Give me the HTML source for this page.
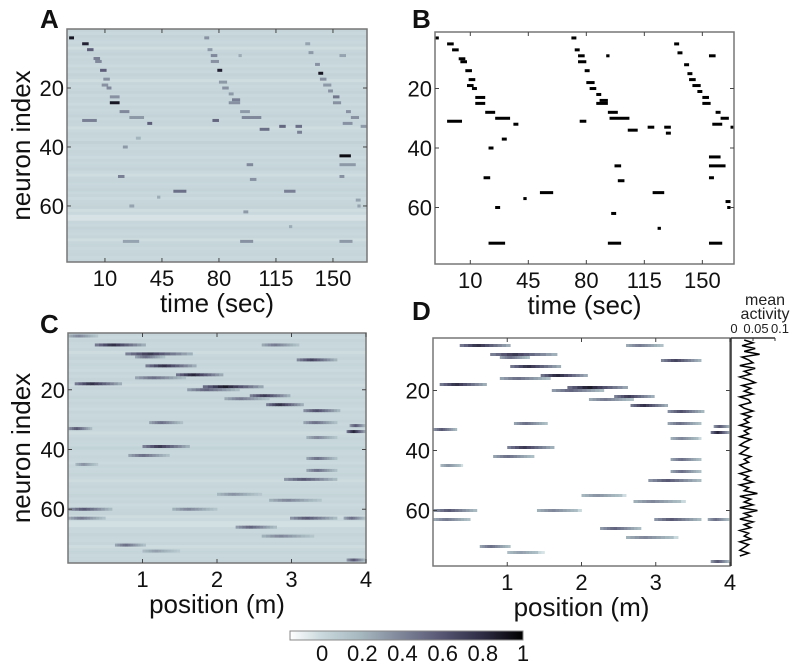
<!DOCTYPE html>
<html><head><meta charset="utf-8">
<style>
html,body{margin:0;padding:0;background:#fff;}
svg{display:block;font-family:"Liberation Sans",sans-serif;}
</style></head>
<body>
<svg id="fig" width="800" height="668" viewBox="0 0 800 668" xmlns="http://www.w3.org/2000/svg"></svg>
<script>
// ---------- data ----------
// time-domain events: [neuron, tStart, tEnd, value]
const timeEvents = [
 [3,-12,-9,0.9],[5,-4,0,0.85],[7,-1,3,0.8],[10,3,7,0.6],[11,4,8,0.55],[14,7,11,0.8],[17,9,13,0.5],[19,8,12,0.5],[20,11,14,0.55],[23,13,19,0.5],[25,13,19,0.9],[28,19,25,0.55],[30,25,34,0.45],[32,36,39,0.8],[31,-4,5,0.6],
 [3,71,74,0.5],[7,73,76,0.45],[9,75,79,0.55],[11,75,80,0.5],[14,79,82,0.85],[18,80,85,0.45],[20,82,86,0.5],[22,86,89,0.45],[24,88,93,0.6],[25,86,93,0.5],[28,93,99,0.45],[30,94,106,0.55],[34,105,111,0.7],[31,76,80,0.75],
 [5,133,136,0.4],[8,135,138,0.45],[12,139,142,0.5],[15,141,144,0.9],[17,142,146,0.5],[19,144,149,0.45],[21,147,150,0.5],[23,150,154,0.65],[25,150,155,0.5],[28,158,161,0.5],[30,161,166,0.5],[32,156,162,0.5],[33,167,171,0.45],
 [43,154,161,0.95],[46,154,164,0.45],[50,154,157,0.5],[58,164,167,0.4],[60,165,167,0.4],[72,154,162,0.45],[9,154,158,0.4],[9,92,94,0.35],
 [55,52,60,0.7],[40,21,24,0.45],[50,18,22,0.6],[72,21,31,0.4],[33,117,121,0.75],[33,127,131,0.7],[35,128,131,0.6],[46,97,101,0.55],[51,99,103,0.5],[62,95,98,0.45],[72,93,101,0.5],[55,120,127,0.6],[67,123,125,0.35],[37,29,32,0.3],[60,25,28,0.4],[57,42,44,0.35]
];
const tBackground = [0.02,0,0.03,0.01,0,0.02,-0.02,0.01,0.03,0,0.02,0.01,-0.01,0.02,0,0.03,0.01,-0.02,0.02,0,0.01,0.03,0,0.02,0.01,-0.01,0.02,0,0.01,0.03,0,0.02,0.01,-0.02,0,0.02,0.01,0,0.04,0.01,0,0.02,0.01,-0.01,0.02,0,0.01,0.03,0,-0.02,0.01,0.02,0,0.01,0.03,0,0.02,-0.01,0.01,0.02,0.03,-0.02,0,-0.04,-0.04,0.01,0,0.03,0.01,0,0.02,-0.02,0.01,0.02,0,0.01,0.02,0,0.01];
// position-domain events: [neuron, posStart, posEnd, value]
const posEvents = [
 [2,0,0.4,0.4],[5,0.36,1.04,0.8],[8,0.77,1.67,0.75],[9,0.9,1.3,0.5],[12,1.04,1.72,0.8],[15,1.45,2.08,0.85],[16,0.9,1.58,0.5],[18,0.09,0.72,0.8],[19,1.81,2.62,0.9],[20,1.6,2.3,0.55],
 [22,2.44,2.98,0.75],[23,2.1,2.7,0.45],[25,2.66,3.16,0.8],[27,3.16,3.65,0.65],[31,3.16,3.61,0.5],[31,1.09,1.54,0.5],[34,3.74,4,0.85],[32,3.78,4,0.6],[33,0,0.32,0.6],
 [39,1.0,1.63,0.75],[42,0.81,1.36,0.5],[10,3.07,3.61,0.7],[5,2.6,3.1,0.45],[50,2.9,3.61,0.6],[60,0,0.59,0.6],[63,0,0.5,0.45],[63,2.98,3.61,0.6],[63,3.7,4,0.5],
 [66,2.25,2.8,0.55],[72,0.63,1.04,0.5],[57,2.7,3.4,0.4],[47,3.2,3.61,0.5],[43,3.2,3.61,0.5],[36,3.2,3.61,0.4],[77,3.74,4,0.6],[45,0.1,0.4,0.35],[55,2.0,2.6,0.35],[60,1.4,2.0,0.4],[69,2.6,3.3,0.4],[74,1.0,1.5,0.3]
];
const activity = [0.03,0.05,0.025,0.055,0.03,0.065,0.025,0.04,0.05,0.02,0.055,0.03,0.045,0.02,0.04,0.055,0.025,0.045,0.03,0.05,0.02,0.04,0.045,0.02,0.03,0.05,0.025,0.045,0.03,0.04,0.02,0.045,0.03,0.04,0.02,0.045,0.03,0.02,0.04,0.03,0.02,0.045,0.03,0.04,0.02,0.03,0.045,0.02,0.04,0.03,0.05,0.02,0.04,0.03,0.06,0.02,0.045,0.03,0.05,0.02,0.06,0.03,0.045,0.02,0.05,0.03,0.045,0.02,0.04,0.03,0.045,0.02,0.04,0.03,0.02,0.04,0.02];
const timeTicks = [10,45,80,115,150];
const posTicks = [1,2,3,4];
const neuronTicks = [20,40,60];
const cbarTicks = [0,0.2,0.4,0.6,0.8,1];
const actTicks = ["0","0.05","0.1"];

// ---------- helpers ----------
const NS="http://www.w3.org/2000/svg";
const svg=document.getElementById('fig');
function mk(tag,attrs,parent){const e=document.createElementNS(NS,tag);for(const k in attrs)e.setAttribute(k,attrs[k]);(parent||svg).appendChild(e);return e;}
const stops=[[-0.16,[255,255,255]],[0,[200,216,220]],[0.2,[165,182,190]],[0.4,[125,132,152]],[0.6,[86,85,114]],[0.8,[46,44,68]],[1,[0,0,0]]];
function cmap(v){v=Math.max(-0.16,Math.min(1,v));for(let i=1;i<stops.length;i++){if(v<=stops[i][0]){const a=stops[i-1],b=stops[i];const f=(v-a[0])/(b[0]-a[0]);const c=a[1].map((x,j)=>Math.round(x+(b[1][j]-x)*f));return `rgb(${c[0]},${c[1]},${c[2]})`;}}return 'rgb(0,0,0)';}
function panel(p){
  p.sx=v=>p.x0+(v-p.dmin)/(p.dmax-p.dmin)*(p.x1-p.x0);
  p.sy=n=>p.y0+(n-p.nmin)/(p.nmax-p.nmin)*(p.y1-p.y0);
  return p;}
const rowH=3;

const A=panel({x0:67,x1:367,y0:29,y1:262,dmin:-13.3,dmax:170.9,nmin:0,nmax:79});
const B=panel({x0:435,x1:734,y0:32,y1:264,dmin:-11.3,dmax:169.1,nmin:1,nmax:79});
const C=panel({x0:68,x1:366,y0:333,y1:563,dmin:0,dmax:4,nmin:1,nmax:78});
const D=panel({x0:433,x1:730,y0:338,y1:566,dmin:0,dmax:4,nmin:2.5,nmax:78.5});

function clip(p,id){const c=mk('clipPath',{id:id});mk('rect',{x:p.x0,y:p.y0,width:p.x1-p.x0,height:p.y1-p.y0},c);}
clip(A,'cA');clip(B,'cB');clip(C,'cC');clip(D,'cD');

// Panel A
const gA=mk('g',{'clip-path':'url(#cA)'});


tBackground.forEach((v,i)=>{const r=mk('rect',{x:A.x0,y:A.sy(i),width:A.x1-A.x0,height:rowH+0.5,fill:cmap(v)},gA);
 
 });
timeEvents.forEach(e=>{const v=e[3]>0.8?e[3]:e[3]*0.7;const r=mk('rect',{x:A.sx(e[1]),y:A.sy(e[0]-0.5),width:A.sx(e[2])-A.sx(e[1]),height:rowH,fill:cmap(v)},gA);
 
 });

// Panel B
const gB=mk('g',{'clip-path':'url(#cB)'});


timeEvents.forEach(e=>{const r=mk('rect',{x:B.sx(e[1]),y:B.sy(e[0]-0.5),width:B.sx(e[2])-B.sx(e[1]),height:rowH,fill:'#000'},gB);
 
 });

// Panels C & D
function drawPos(p,bg,name){
 const g=mk('g',{'clip-path':`url(#c${name})`});
 
 
 if(bg){tBackground.forEach((v,i)=>{const r=mk('rect',{x:p.x0,y:p.sy(i+1),width:p.x1-p.x0,height:rowH+0.5,fill:cmap(v*0.8)},g);
  
  });}
 const N=12;
 posEvents.forEach(e=>{for(let k=0;k<N;k++){const f=(k+0.5)/N;const prof=f<0.35?0.5+f/0.35*0.5:1-(f-0.35)/0.65*0.75;
  const v=e[3]*prof;const a=e[1]+(e[2]-e[1])*k/N,b=e[1]+(e[2]-e[1])*(k+1)/N;
  const col=bg?cmap(v):cmap(v<0.12?-0.16+v*1.3:v);
  const r=mk('rect',{x:p.sx(a),y:p.sy(e[0]-0.5),width:p.sx(b)-p.sx(a)+0.4,height:rowH,fill:col},g);
  
  }});
}
drawPos(C,true,'C');drawPos(D,false,'D');

// axes
function axes(p,xt,yt,showY,letter,lx,ly,xtitle){
 const fr=mk('rect',{x:p.x0,y:p.y0,width:p.x1-p.x0,height:p.y1-p.y0,fill:'none',stroke:'#777','stroke-width':1.5});
 
 
 xt.forEach(t=>{const x=p.sx(t);mk('line',{x1:x,x2:x,y1:p.y1,y2:p.y1-4,stroke:'#444'});mk('line',{x1:x,x2:x,y1:p.y0,y2:p.y0+4,stroke:'#444'});
  const tx=mk('text',{x:x,y:p.y1+24,'font-size':22,'text-anchor':'middle',fill:'#111'});tx.textContent=t;
  
  });
 yt.forEach(t=>{const y=p.sy(t);mk('line',{x1:p.x0,x2:p.x0+4,y1:y,y2:y,stroke:'#444'});mk('line',{x1:p.x1,x2:p.x1-4,y1:y,y2:y,stroke:'#444'});
  const tx=mk('text',{x:p.x0-3,y:y+8,'font-size':22,'text-anchor':'end',fill:'#111'});tx.textContent=t;
  
  });
 const L=mk('text',{x:lx,y:ly,'font-size':26,'font-weight':'bold',fill:'#111'});L.textContent=letter;
 
 
 const xtl=mk('text',{x:(p.x0+p.x1)/2,y:p.y1+50,'font-size':26,'text-anchor':'middle',fill:'#111'});xtl.textContent=xtitle;
 
 
 if(showY){const yl=mk('text',{x:0,y:0,'font-size':26,'text-anchor':'middle',fill:'#111',transform:`translate(30,${(p.y0+p.y1)/2}) rotate(-90)`});yl.textContent='neuron index';
  
  }
}
axes(A,timeTicks,neuronTicks,true,'A',40,28,'time (sec)');
axes(B,timeTicks,neuronTicks,false,'B',412,28,'time (sec)');
axes(C,posTicks,neuronTicks,true,'C',40,333,'position (m)');
axes(D,posTicks,neuronTicks,false,'D',412,320,'position (m)');

// mean activity panel
const mx0=731, mxs=440, mtop=340, mbot=556;
mk('line',{x1:mx0,x2:mx0,y1:338,y2:566,stroke:'#333','stroke-width':1.5});
mk('line',{x1:mx0,x2:mx0+44,y1:338,y2:338,stroke:'#333','stroke-width':1.5});
const mt=mk('text',{x:765,y:305,'font-size':16,'text-anchor':'middle',fill:'#222'});mt.textContent='mean';


const mt2=mk('text',{x:765,y:319,'font-size':16,'text-anchor':'middle',fill:'#222'});mt2.textContent='activity';


const actLabelShift={"0":3,"0.05":3,"0.1":5};
actTicks.forEach(t=>{const x=mx0+parseFloat(t)*mxs;mk('line',{x1:x,x2:x,y1:338,y2:341,stroke:'#333'});
 const tx=mk('text',{x:x+actLabelShift[t],y:333,'font-size':13,'text-anchor':'middle',fill:'#222'});tx.textContent=t;
 
 });
const pts=activity.map((v,i)=>`${mx0+v*mxs},${mtop+i*(mbot-mtop)/(activity.length-1)}`).join(' ');
const pl=mk('polyline',{points:pts,fill:'none',stroke:'#000','stroke-width':1.5});



// colorbar
const cb0=290,cb1=523,cbv0=-0.16,cbv1=1;
const grad=mk('linearGradient',{id:'cbg',x1:0,x2:1,y1:0,y2:0});
stops.forEach(s=>mk('stop',{offset:(s[0]-cbv0)/(cbv1-cbv0),'stop-color':cmap(s[0])},grad));
const cb=mk('rect',{x:cb0,y:631,width:cb1-cb0,height:9,fill:'url(#cbg)',stroke:'#888','stroke-width':1});


cbarTicks.forEach(t=>{const x=cb0+(t-cbv0)/(cbv1-cbv0)*(cb1-cb0);
 const tx=mk('text',{x:x,y:661,'font-size':22,'text-anchor':'middle',fill:'#111'});tx.textContent=t;
 
 });
</script>
</body></html>
